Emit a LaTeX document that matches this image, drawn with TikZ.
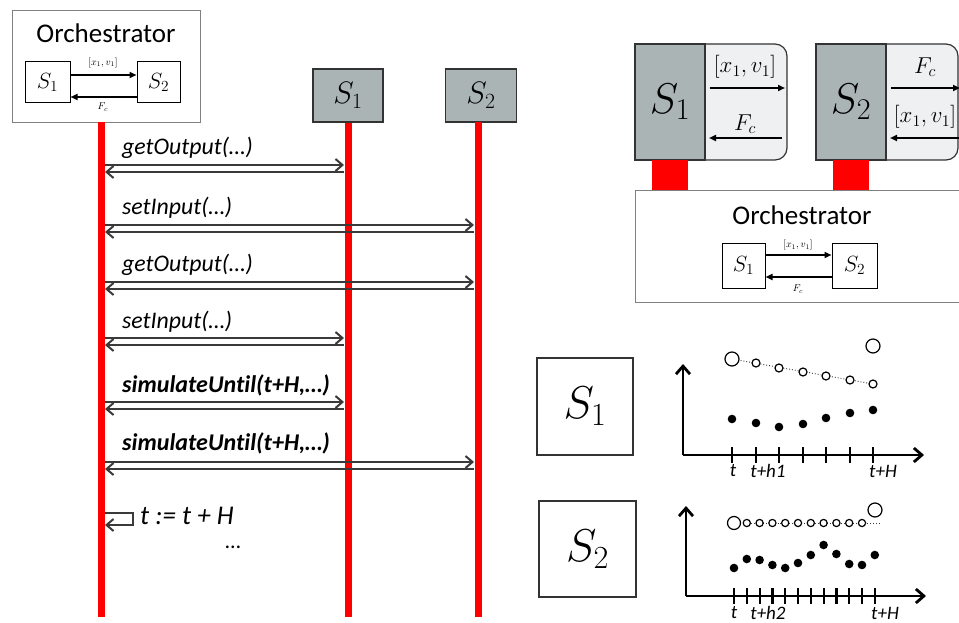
\RequirePackage{fix-cm}
\documentclass[tikz,border=0pt]{standalone}
\usepackage{fontspec}
\setmainfont[Ligatures=NoCommon]{Carlito}
\usetikzlibrary{arrows.meta}
\definecolor{boxgray}{HTML}{AAB4B4}
\definecolor{lightfill}{HTML}{EEF0F1}
\definecolor{msggray}{HTML}{3A3A3A}
\definecolor{edgegray}{HTML}{333333}
\definecolor{orchgray}{HTML}{808080}
\begin{document}
\begin{tikzpicture}[x=1pt,y=-1pt,
  lifeline/.style={red, line width=7pt},
  msgline/.style={msggray, line width=2pt},
  msgright/.style={msgline, -{Straight Barb[length=7pt,width=12pt,line width=2pt]}},
  msgleft/.style={msgline, {Straight Barb[length=7pt,width=12pt,line width=2pt]}-},
  msgtext/.style={anchor=west, inner sep=0pt, font=\fontsize{23.8}{27}\selectfont\itshape},
  msgbold/.style={anchor=west, inner sep=0pt, font=\fontsize{24}{27}\selectfont\bfseries\itshape},
  orchtitle/.style={inner sep=0pt, font=\fontsize{27}{30}\selectfont},
  smallbox/.style={draw=black, line width=1pt, fill=white, inner sep=0pt, font=\fontsize{22}{24}\selectfont},
  flowarrow/.style={line width=1.8pt, -{Triangle[length=7pt,width=6pt]}},
  tinylab/.style={inner sep=0pt, font=\fontsize{10}{12}\selectfont},
  headbox/.style={draw=edgegray, line width=1.2pt, fill=boxgray, inner sep=0pt, font=\fontsize{31}{34}\selectfont},
  bigbox/.style={draw=edgegray, line width=1.2pt, fill=boxgray, inner sep=0pt, font=\fontsize{43}{46}\selectfont},
  biglab/.style={inner sep=0pt, font=\fontsize{23}{26}\selectfont},
  plotbox/.style={draw=edgegray, line width=1.2pt, inner sep=0pt, font=\fontsize{46}{50}\selectfont},
  axis/.style={line width=2.8pt, -{Straight Barb[length=8pt,width=14pt,line width=2.8pt]}},
  tick/.style={line width=2.2pt},
  ticklab/.style={inner sep=0pt, font=\fontsize{19}{22}\selectfont\itshape},
  hollow/.style={draw=black, fill=white, line width=1.2pt},
  dotline/.style={dotted, line width=0.9pt, black!80}
]
\useasboundingbox (0,0) rectangle (959,623);
\clip (0,0) rectangle (959,623);

% ---------------- left: sequence diagram ----------------
\node[draw=orchgray, line width=1pt, minimum width=188pt, minimum height=112pt, anchor=north west] (orchL) at (12,10) {};
\node[orchtitle] (orchLt) at (106,33) {Orchestrator};
\node[smallbox, minimum width=45pt, minimum height=41pt] (oLs1) at (47.5,82.5) {$S_1$};
\node[smallbox, minimum width=43pt, minimum height=41pt] (oLs2) at (158.5,82.5) {$S_2$};
\draw[flowarrow] ([yshift=7.5pt]oLs1.east) -- ([yshift=7.5pt]oLs2.west);
\draw[flowarrow] ([yshift=-14.5pt]oLs2.west) -- ([yshift=-14.5pt]oLs1.east);
\node[tinylab] (oLx) at (103,63) {$[x_1,v_1]$};
\node[tinylab] (oLf) at (103,107) {$F_c$};

\node[headbox, minimum width=70pt, minimum height=53pt] (hS1) at (348,95.5) {$S_1$};
\node[headbox, minimum width=71pt, minimum height=53pt] (hS2) at (481,95.5) {$S_2$};

\coordinate (LOtop) at (101,122);
\coordinate (LObot) at (101,617);
\coordinate (L1bot) at (348,617);
\coordinate (L2top) at (478,122);
\coordinate (L2bot) at (478,617);
\draw[lifeline] (LOtop) -- (LObot);
\draw[lifeline] (hS1.south) -- (L1bot);
\draw[lifeline] (L2top) -- (L2bot);

\coordinate (LOe) at (105,0);
\coordinate (L1e) at (344,0);
\coordinate (L2e) at (474,0);

% messages
\coordinate (m1a) at (0,165); \coordinate (m1b) at (0,172);
\node[msgtext] (t1) at (122,148) {getOutput(…)};
\draw[msgright] (LOe |- m1a) -- (L1e |- m1a);
\draw[msgleft] (LOe |- m1b) -- (L1e |- m1b);

\coordinate (m2a) at (0,225); \coordinate (m2b) at (0,232);
\node[msgtext] (t2) at (122,208) {setInput(…)};
\draw[msgright] (LOe |- m2a) -- (L2e |- m2a);
\draw[msgleft] (LOe |- m2b) -- (L2e |- m2b);

\coordinate (m3a) at (0,282); \coordinate (m3b) at (0,289);
\node[msgtext] (t3) at (122,265) {getOutput(…)};
\draw[msgright] (LOe |- m3a) -- (L2e |- m3a);
\draw[msgleft] (LOe |- m3b) -- (L2e |- m3b);

\coordinate (m4a) at (0,338); \coordinate (m4b) at (0,345);
\node[msgtext] (t4) at (122,322) {setInput(…)};
\draw[msgright] (LOe |- m4a) -- (L1e |- m4a);
\draw[msgleft] (LOe |- m4b) -- (L1e |- m4b);

\coordinate (m5a) at (0,402); \coordinate (m5b) at (0,409);
\node[msgbold] (t5) at (122,385) {simulateUntil(t+H,…)};
\draw[msgright] (LOe |- m5a) -- (L1e |- m5a);
\draw[msgleft] (LOe |- m5b) -- (L1e |- m5b);

\coordinate (m6a) at (0,462); \coordinate (m6b) at (0,469);
\node[msgbold] (t6) at (122,443) {simulateUntil(t+H,…)};
\draw[msgright] (LOe |- m6a) -- (L2e |- m6a);
\draw[msgleft] (LOe |- m6b) -- (L2e |- m6b);

% self loop
\coordinate (sl1) at (105,513);
\coordinate (sl2) at (133,513);
\coordinate (sl3) at (133,525);
\coordinate (sl4) at (105,525);
\draw[msgline, -{Straight Barb[length=7pt,width=12pt,line width=2pt]}] (sl1) -- (sl2) -- (sl3) -- (sl4);
\node[msgtext, font=\fontsize{27}{30}\selectfont\itshape] (tup) at (140,516) {t := t + H};
\node[inner sep=0pt, font=\fontsize{22}{26}\selectfont] (dots) at (233,547) {…};

% ---------------- right top: composite ----------------
\filldraw[fill=lightfill, draw=edgegray, line width=1.2pt] (705,44) [rounded corners=12pt] -- (787,44) -- (787,160) [sharp corners] -- (705,160) -- cycle;
\node[bigbox, minimum width=70pt, minimum height=116pt] (cS1) at (670,102) {$S_1$};
\draw[flowarrow] (710,88) coordinate (c1a) -- (785,88) coordinate (c1b);
\draw[flowarrow] (782,138) coordinate (c1c) -- (709,138) coordinate (c1d);
\node[biglab] (c1x) at (745,67) {$[x_1,v_1]$};
\node[biglab] (c1f) at (745,124) {$F_c$};

\filldraw[fill=lightfill, draw=edgegray, line width=1.2pt] (886,44) [rounded corners=12pt] -- (958,44) -- (958,160) [sharp corners] -- (886,160) -- cycle;
\node[bigbox, minimum width=70pt, minimum height=116pt] (cS2) at (851,102) {$S_2$};
\draw[flowarrow] (891,88) coordinate (c2a) -- (960,88) coordinate (c2b);
\draw[flowarrow] (962,138) coordinate (c2c) -- (890,138) coordinate (c2d);
\node[biglab] (c2f) at (925,67) {$F_c$};
\node[biglab] (c2x) at (925,117) {$[x_1,v_1]$};

\fill[red] (652,160) rectangle (688,190);
\fill[red] (833,160) rectangle (869,190);

\node[draw=orchgray, line width=1pt, fill=white, minimum width=340pt, minimum height=112pt, anchor=north west] (orchR) at (635,190) {};
\node[orchtitle] (orchRt) at (802,215) {Orchestrator};
\node[smallbox, minimum width=43pt, minimum height=45pt] (oRs1) at (743.5,265.5) {$S_1$};
\node[smallbox, minimum width=45pt, minimum height=45pt] (oRs2) at (854.5,265.5) {$S_2$};
\draw[flowarrow] ([yshift=10.5pt]oRs1.east) -- ([yshift=10.5pt]oRs2.west);
\draw[flowarrow] ([yshift=-11.5pt]oRs2.west) -- ([yshift=-11.5pt]oRs1.east);
\node[tinylab] (oRx) at (798,245) {$[x_1,v_1]$};
\node[tinylab] (oRf) at (798,289) {$F_c$};

% ---------------- right bottom: plots ----------------
\node[plotbox, minimum width=96pt, minimum height=97pt] (pS1) at (585,406.5) {$S_1$};
\coordinate (o1) at (683,455);
\draw[axis] (o1) -- (683,364);
\draw[axis] (o1) -- (924,455);
\foreach \x in {732,756,779,803,826,850,873} \draw[tick] (\x,447) -- (\x,463);
\draw[dotline] (732,359) -- (873,384);
\foreach \x/\y in {756/363,779/368,803/372,826/376,850/380,873/384} \filldraw[hollow] (\x,\y) circle (4pt);
\filldraw[hollow] (732,359) circle (7pt);
\filldraw[hollow] (873,346) circle (7pt);
\foreach \x/\y in {732/419,756/423,779/427,803/424,826/418,850/413,873/410} \fill (\x,\y) circle (4.3pt);
\node[ticklab] (l1a) at (733,471) {t};
\node[ticklab] (l1b) at (768,471) {t+h1};
\node[ticklab] (l1c) at (883,471) {t+H};

\node[plotbox, minimum width=97pt, minimum height=96pt] (pS2) at (587.5,549) {$S_2$};
\coordinate (o2) at (686,596);
\draw[axis] (o2) -- (686,506);
\draw[axis] (o2) -- (926,596);
\foreach \i in {0,...,11} \draw[tick] (734+12.8*\i,588) -- (734+12.8*\i,604);
\draw[dotline] (734,523) -- (881,523);
\foreach \i in {1,...,10} \filldraw[hollow] (734+12.8*\i,523) circle (3.6pt);
\filldraw[hollow] (734,523) circle (6.5pt);
\filldraw[hollow] (875,510) circle (7pt);
\foreach \i/\y in {0/568,1/559,2/560,3/565,4/568,5/563,6/555,7/545,8/554,9/564,10/565,11/555} \fill (734+12.8*\i,\y) circle (4.3pt);
\node[ticklab] (l2a) at (734,613) {t};
\node[ticklab] (l2b) at (768,613) {t+h2};
\node[ticklab] (l2c) at (885,613) {t+H};
\end{tikzpicture}
\end{document}
